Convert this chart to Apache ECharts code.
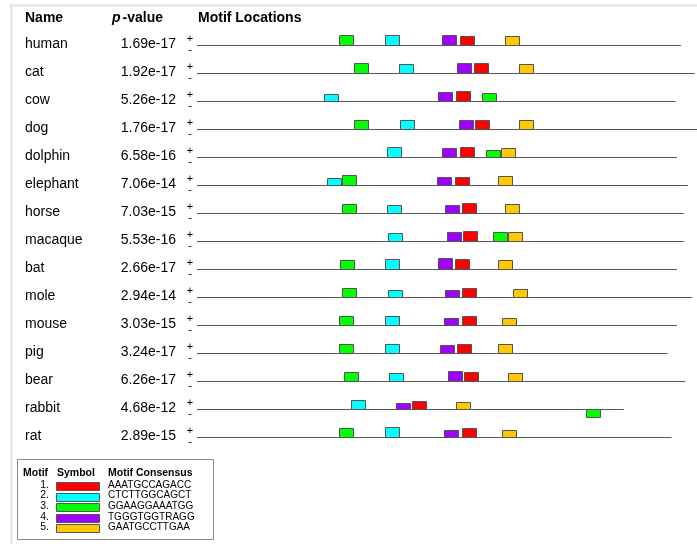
<!DOCTYPE html>
<html>
<head>
<meta charset="utf-8">
<script src="https://cdn.jsdelivr.net/npm/echarts@6/dist/echarts.min.js"></script>
<style>
  html, body { margin: 0; padding: 0; background: #fff; }
  #chart { width: 697px; height: 544px; }
</style>
</head>
<body>
<div id="chart"></div>
<script>
// Sequence names, combined p-values and sequence lengths (nt)
const names = ['human', 'cat', 'cow', 'dog', 'dolphin', 'elephant', 'horse', 'macaque',
               'bat', 'mole', 'mouse', 'pig', 'bear', 'rabbit', 'rat'];
const pValues = ['1.69e-17', '1.92e-17', '5.26e-12', '1.76e-17', '6.58e-16', '7.06e-14', '7.03e-15',
                 '5.53e-16', '2.66e-17', '2.94e-14', '3.03e-15', '3.24e-17', '6.26e-17', '4.68e-12', '2.89e-15'];
const seqLengths = [355, 365, 351, 368, 352, 360, 357, 357, 352, 363, 352, 345, 358, 313, 348];

// Motifs: number, colour, consensus; all motifs are 11 nt wide
const motifNums = [1, 2, 3, 4, 5];
const motifColors = ['#ff0000', '#00ffff', '#00ff00', '#a000ff', '#ffc800'];
const motifConsensus = ['AAATGCCAGACC', 'CTCTTGGCAGCT', 'GGAAGGAAATGG', 'TGGGTGGTRAGG', 'GAATGCCTTGAA'];
const motifWidth = 11;

// Sites per sequence: [motif number, start (nt), strand (+1 / -1), relative site strength]
const sites = [
  [[3, 104, 1, 1.0], [2, 138, 1, 1.0], [4, 180, 1, 1.0], [1, 193, 1, 0.93], [5, 226, 1, 0.9]],
  [[3, 115, 1, 1.0], [2, 148, 1, 0.9], [4, 191, 1, 1.0], [1, 203, 1, 1.0], [5, 236, 1, 0.9]],
  [[2, 93, 1, 0.73], [4, 177, 1, 0.93], [1, 190, 1, 1.0], [3, 209, 1, 0.83]],
  [[3, 115, 1, 0.93], [2, 149, 1, 0.93], [4, 192, 1, 0.93], [1, 204, 1, 0.93], [5, 236, 1, 0.87]],
  [[2, 139, 1, 0.97], [4, 180, 1, 0.9], [1, 193, 1, 0.97], [3, 212, 1, 0.7], [5, 223, 1, 0.9]],
  [[2, 95, 1, 0.73], [3, 106, 1, 0.97], [4, 176, 1, 0.83], [1, 189, 1, 0.8], [5, 221, 1, 0.93]],
  [[3, 106, 1, 0.93], [2, 139, 1, 0.8], [4, 182, 1, 0.77], [1, 194, 1, 0.97], [5, 226, 1, 0.9]],
  [[2, 140, 1, 0.83], [4, 183, 1, 0.9], [1, 195, 1, 0.97], [3, 217, 1, 0.9], [5, 228, 1, 0.9]],
  [[3, 105, 1, 0.87], [2, 138, 1, 0.97], [4, 177, 1, 1.07], [1, 189, 1, 0.97], [5, 221, 1, 0.87]],
  [[3, 106, 1, 0.9], [2, 140, 1, 0.7], [4, 182, 1, 0.7], [1, 194, 1, 0.9], [5, 232, 1, 0.8]],
  [[3, 104, 1, 0.9], [2, 138, 1, 0.9], [4, 181, 1, 0.7], [1, 194, 1, 0.9], [5, 224, 1, 0.7]],
  [[3, 104, 1, 0.9], [2, 138, 1, 0.9], [4, 178, 1, 0.8], [1, 191, 1, 0.9], [5, 221, 1, 0.9]],
  [[3, 108, 1, 0.93], [2, 141, 1, 0.83], [4, 184, 1, 0.97], [1, 196, 1, 0.9], [5, 228, 1, 0.8]],
  [[2, 113, 1, 0.93], [4, 146, 1, 0.63], [1, 158, 1, 0.8], [5, 190, 1, 0.73], [3, 285, -1, 0.8]],
  [[3, 104, 1, 0.93], [2, 138, 1, 1.0], [4, 181, 1, 0.73], [1, 194, 1, 0.93], [5, 224, 1, 0.73]]
];

const BOX_H = 10;          // height of a full-strength site box, px
const FONT = 'Liberation Sans, Arial, Helvetica, sans-serif';

const chart = echarts.init(document.getElementById('chart'), null, { renderer: 'canvas' });

function renderRow(params, api) {
  const row = params.dataIndex;
  const start = api.coord([0, row]);
  const end = api.coord([seqLengths[row], row]);
  const y = Math.round(start[1]) + 0.5;
  const children = [
    { type: 'line', shape: { x1: start[0], y1: y, x2: end[0], y2: y },
      style: { stroke: '#555', lineWidth: 1.2 } },
    { type: 'text', x: 190, y: y - 6.5,
      style: { text: '+', fontSize: 11, fontFamily: FONT, fill: '#000', align: 'center', verticalAlign: 'middle' } },
    { type: 'text', x: 190, y: y + 4.5,
      style: { text: '-', fontSize: 11, fontFamily: FONT, fill: '#000', align: 'center', verticalAlign: 'middle' } }
  ];
  sites[row].forEach(function (s) {
    const x0 = api.coord([s[1], row])[0];
    const x1 = api.coord([s[1] + motifWidth, row])[0];
    const h = Math.round(s[3] * BOX_H);
    const top = s[2] > 0 ? y - h : y;
    children.push({
      type: 'rect',
      shape: { x: Math.round(x0) + 0.5, y: top, width: Math.round(x1 - x0) - 1, height: h },
      style: { fill: motifColors[s[0] - 1], stroke: '#555', lineWidth: 1 }
    });
  });
  return { type: 'group', children: children };
}

// Legend graphic elements
const legendChildren = [
  { type: 'rect', shape: { x: 17.5, y: 459.5, width: 196, height: 80 },
    style: { fill: '#fff', stroke: '#888', lineWidth: 1 } },
  { type: 'text', x: 23, y: 473, style: { text: 'Motif', fontSize: 10.5, fontWeight: 'bold', fontFamily: FONT, fill: '#000', verticalAlign: 'middle' } },
  { type: 'text', x: 57, y: 473, style: { text: 'Symbol', fontSize: 10.5, fontWeight: 'bold', fontFamily: FONT, fill: '#000', verticalAlign: 'middle' } },
  { type: 'text', x: 108, y: 473, style: { text: 'Motif Consensus', fontSize: 10.5, fontWeight: 'bold', fontFamily: FONT, fill: '#000', verticalAlign: 'middle' } }
];
motifNums.forEach(function (n, i) {
  const cy = 485 + i * 10.6;
  legendChildren.push(
    { type: 'text', x: 49, y: cy, style: { text: n + '.', fontSize: 10.5, fontFamily: FONT, fill: '#000', align: 'right', verticalAlign: 'middle' } },
    { type: 'rect', shape: { x: 56.5, y: Math.round(cy - 3) + 0.5, width: 43, height: 8 },
      style: { fill: motifColors[i], stroke: '#555', lineWidth: 1 } },
    { type: 'text', x: 108, y: cy, style: { text: motifConsensus[i], fontSize: 10, fontFamily: FONT, fill: '#000', verticalAlign: 'middle' } }
  );
});

const option = {
  backgroundColor: '#fff',
  animation: false,
  // 15 px per 11 nt along the sequence axis
  grid: { left: 197, top: 45, right: 0, height: 392 },
  xAxis: { type: 'value', min: 0, max: 500 * 11 / 15, show: false },
  yAxis: {
    type: 'category', data: names, inverse: true, boundaryGap: false,
    axisLine: { show: false }, axisTick: { show: false }, splitLine: { show: false },
    axisLabel: {
      margin: 21,
      formatter: function (value, idx) { return '{n|' + value + '}{p|' + pValues[idx] + '}'; },
      rich: {
        n: { width: 87, align: 'left', fontSize: 14, fontFamily: FONT, color: '#000', padding: [0, 0, 2, 0] },
        p: { width: 64, align: 'right', fontSize: 14, fontFamily: FONT, color: '#000', padding: [0, 0, 2, 0] }
      }
    }
  },
  graphic: [
    // panel frame
    { type: 'rect', shape: { x: 9, y: 4, width: 688, height: 3 }, style: { fill: '#e9e9e9' }, silent: true },
    { type: 'rect', shape: { x: 10, y: 4, width: 3, height: 540 }, style: { fill: '#e9e9e9' }, silent: true },
    // column headers
    { type: 'text', x: 25, y: 18, style: { text: 'Name', fontSize: 14, fontWeight: 'bold', fontFamily: FONT, fill: '#000', verticalAlign: 'middle' } },
    { type: 'text', x: 112, y: 18, style: {
        text: '{i|p}{b|-value}', fontFamily: FONT, verticalAlign: 'middle',
        rich: {
          i: { fontSize: 14, fontWeight: 'bold', fontStyle: 'italic', fontFamily: FONT, fill: '#000', padding: [0, 2, 0, 0] },
          b: { fontSize: 14, fontWeight: 'bold', fontFamily: FONT, fill: '#000' }
        } } },
    { type: 'text', x: 198, y: 18, style: { text: 'Motif Locations', fontSize: 14, fontWeight: 'bold', fontFamily: FONT, fill: '#000', verticalAlign: 'middle' } },
    { type: 'group', children: legendChildren }
  ],
  series: [{
    type: 'custom',
    renderItem: renderRow,
    clip: false,
    data: names.map(function (n, i) { return [0, i]; })
  }]
};
chart.setOption(option);
</script>
</body>
</html>
